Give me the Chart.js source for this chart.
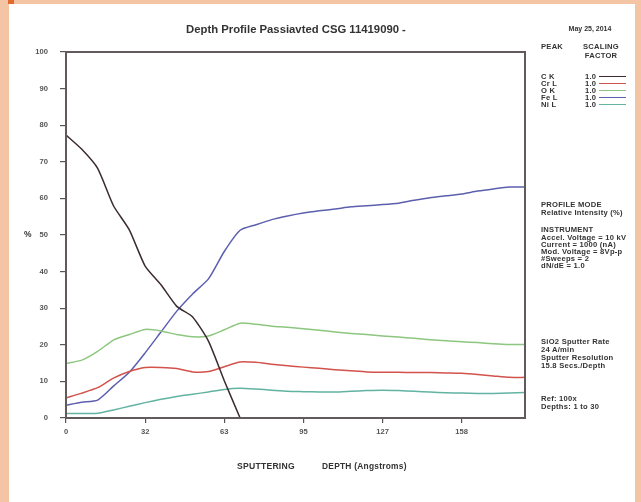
<!DOCTYPE html>
<html>
<head>
<meta charset="utf-8">
<script src="https://cdn.jsdelivr.net/npm/chart.js@4.4.1/dist/chart.umd.min.js"></script>
<style>
  html, body { margin: 0; padding: 0; }
  body {
    width: 641px; height: 502px; position: relative; overflow: hidden;
    background: #f4c5a5;
    font-family: "Liberation Sans", Arial, sans-serif;
  }
  #corner { position: absolute; left: 8px; top: 0; width: 6px; height: 4px; background: #e06a30; }
  #sheet { position: absolute; left: 9px; top: 4px; width: 626px; height: 498px; background: #fff; }
  #chart { position: absolute; left: 0; top: 0; }
  .t { position: absolute; font-weight: bold; color: #333; white-space: nowrap; font-size: 7.6px; line-height: 8px; letter-spacing: 0.25px; }
  .c { transform: translateX(-50%); }
  .swatch { position: absolute; height: 0; border-top: 1.5px solid; width: 27px; }
</style>
</head>
<body>
<div id="corner"></div>
<div id="sheet"></div>
<canvas id="chart" width="641" height="502"></canvas>

<div class="t c" style="left:296px; top:23px; font-size:11.3px; line-height:12px; letter-spacing:0;">Depth Profile Passiavted CSG 11419090 -</div>
<div class="t c" style="left:590px; top:25px; font-size:7px; letter-spacing:0;">May 25, 2014</div>

<div class="t" style="left:24px; top:230px; font-size:8.5px;">%</div>

<div class="t" style="left:541px; top:43px;">PEAK</div>
<div class="t c" style="left:601px; top:43px;">SCALING</div>
<div class="t c" style="left:601px; top:52px;">FACTOR</div>
<div id="legend"></div>

<div class="t" style="left:541px; top:201px;">PROFILE MODE</div>
<div class="t" style="left:541px; top:209px;">Relative Intensity (%)</div>
<div class="t" style="left:541px; top:226px;">INSTRUMENT</div>
<div class="t" style="left:541px; top:234px;">Accel. Voltage = 10 kV</div>
<div class="t" style="left:541px; top:241px;">Current = 1000 (nA)</div>
<div class="t" style="left:541px; top:248px;">Mod. Voltage = 8Vp-p</div>
<div class="t" style="left:541px; top:255px;">#Sweeps = 2</div>
<div class="t" style="left:541px; top:262px;">dN/dE = 1.0</div>

<div class="t" style="left:541px; top:338px;">SiO2 Sputter Rate</div>
<div class="t" style="left:541px; top:346px;">24 A/min</div>
<div class="t" style="left:541px; top:354px;">Sputter Resolution</div>
<div class="t" style="left:541px; top:362px;">15.8 Secs./Depth</div>
<div class="t" style="left:541px; top:395px;">Ref: 100x</div>
<div class="t" style="left:541px; top:403px;">Depths: 1 to 30</div>

<div class="t" style="left:237px; top:462px; font-size:8.6px;">SPUTTERING</div>
<div class="t" style="left:322px; top:462px; font-size:8.4px;">DEPTH (Angstroms)</div>

<script>
// Sputter depth of each acquisition cycle (Angstroms)
const depth = [0, 6.32, 12.64, 18.96, 25.28, 31.6, 37.92, 44.24, 50.56, 56.88,
               63.2, 69.52, 75.84, 82.16, 88.48, 94.8, 101.12, 107.44, 113.76, 120.08,
               126.4, 132.72, 139.04, 145.36, 151.68, 158, 164.32, 170.64, 176.96, 183.28];

// Relative intensity (%) per element peak
const cK  = [77.3, 73.4, 68.2, 58.0, 51.4, 41.5, 36.4, 30.5, 27.6, 21.0,
             10.2, 0, null, null, null, null, null, null, null, null,
             null, null, null, null, null, null, null, null, null, null];
const crL = [5.5, 6.8, 8.3, 10.9, 12.7, 13.8, 13.8, 13.5, 12.6, 12.7,
             14.0, 15.3, 15.2, 14.7, 14.3, 13.9, 13.6, 13.2, 12.9, 12.6,
             12.5, 12.5, 12.4, 12.4, 12.3, 12.2, 11.9, 11.5, 11.1, 11.1];
const oK  = [14.9, 15.8, 18.2, 21.3, 22.8, 24.2, 23.8, 22.8, 22.2, 22.4,
             24.1, 25.9, 25.6, 25.1, 24.8, 24.4, 24.0, 23.5, 23.1, 22.8,
             22.4, 22.1, 21.8, 21.4, 21.1, 20.8, 20.6, 20.3, 20.1, 20.1];
const feL = [3.5, 4.3, 4.9, 8.7, 12.5, 17.8, 23.5, 29.2, 33.9, 38.0,
             45.5, 51.3, 52.8, 54.2, 55.2, 56.0, 56.6, 57.1, 57.7, 58.0,
             58.3, 58.7, 59.5, 60.2, 60.7, 61.2, 62.0, 62.6, 63.1, 63.1];
const niL = [1.2, 1.2, 1.3, 2.2, 3.2, 4.2, 5.1, 5.9, 6.5, 7.1,
             7.8, 8.1, 7.9, 7.6, 7.3, 7.2, 7.1, 7.1, 7.3, 7.5,
             7.6, 7.5, 7.3, 7.1, 6.9, 6.8, 6.7, 6.7, 6.8, 7.0];

// Peak names and scaling factors
const peaks = ['C K', 'Cr L', 'O K', 'Fe L', 'Ni L'];
const scalingFactors = ['1.0', '1.0', '1.0', '1.0', '1.0'];

// Axis ticks
const xTickValues = [0, 31.6, 63.2, 94.8, 126.4, 158];
const xTickLabels = ['0', '32', '63', '95', '127', '158'];
const yTickValues = [0, 10, 20, 30, 40, 50, 60, 70, 80, 90, 100];

const seriesData = [cK, crL, oK, feL, niL];
const lineColors = ['#3b2b2e', '#d2524c', '#8dc67f', '#5b5fae', '#62b3a2'];

// Legend block on the right
const legend = document.getElementById('legend');
peaks.forEach((name, i) => {
  const top = 73 + i * 7;
  legend.insertAdjacentHTML('beforeend',
    `<div class="t" style="left:541px; top:${top}px;">${name}</div>` +
    `<div class="t" style="left:585px; top:${top}px;">${scalingFactors[i]}</div>` +
    `<div class="swatch" style="left:599px; top:${top + 3}px; border-color:${lineColors[i]};"></div>`);
});

// Rectangle around the plotting area
const framePlugin = {
  id: 'frame',
  afterDatasetsDraw(chart) {
    const { ctx, chartArea: a } = chart;
    ctx.save();
    ctx.strokeStyle = '#625a5a';
    ctx.lineWidth = 2;
    ctx.strokeRect(a.left, a.top, a.right - a.left, a.bottom - a.top);
    ctx.restore();
  }
};

const tickFont = { family: '"Liberation Sans", Arial, sans-serif', size: 7.6, weight: 'bold' };

new Chart(document.getElementById('chart'), {
  type: 'line',
  data: {
    datasets: peaks.map((name, i) => ({
      label: name,
      data: depth.map((d, j) => ({ x: d, y: seriesData[i][j] })),
      borderColor: lineColors[i],
      borderWidth: 1.5,
      pointRadius: 0,
      tension: 0.2,
      spanGaps: false,
      fill: false
    }))
  },
  options: {
    responsive: false,
    animation: false,
    devicePixelRatio: 1,
    layout: { padding: { left: 0, top: 52, right: 116, bottom: 54 } },
    plugins: { legend: { display: false }, tooltip: { enabled: false } },
    scales: {
      x: {
        type: 'linear',
        min: 0,
        max: depth[depth.length - 1],
        afterBuildTicks(scale) { scale.ticks = xTickValues.map(v => ({ value: v })); },
        afterFit(scale) { scale.height = 30; },
        ticks: {
          autoSkip: false, maxRotation: 0, padding: 4, color: '#555', font: tickFont,
          callback(value) { return xTickLabels[xTickValues.indexOf(value)]; }
        },
        grid: { drawOnChartArea: false, drawTicks: true, tickLength: 5, color: '#555', tickColor: '#555', lineWidth: 1.2 },
        border: { display: false }
      },
      y: {
        type: 'linear',
        min: 0,
        max: 100,
        afterBuildTicks(scale) { scale.ticks = yTickValues.map(v => ({ value: v })); },
        afterFit(scale) { scale.width = 66; },
        ticks: { autoSkip: false, padding: 12, color: '#555', font: tickFont },
        grid: { drawOnChartArea: false, drawTicks: true, tickLength: 6, color: '#555', tickColor: '#555', lineWidth: 1.2 },
        border: { display: false }
      }
    }
  },
  plugins: [framePlugin]
});
</script>
</body>
</html>
